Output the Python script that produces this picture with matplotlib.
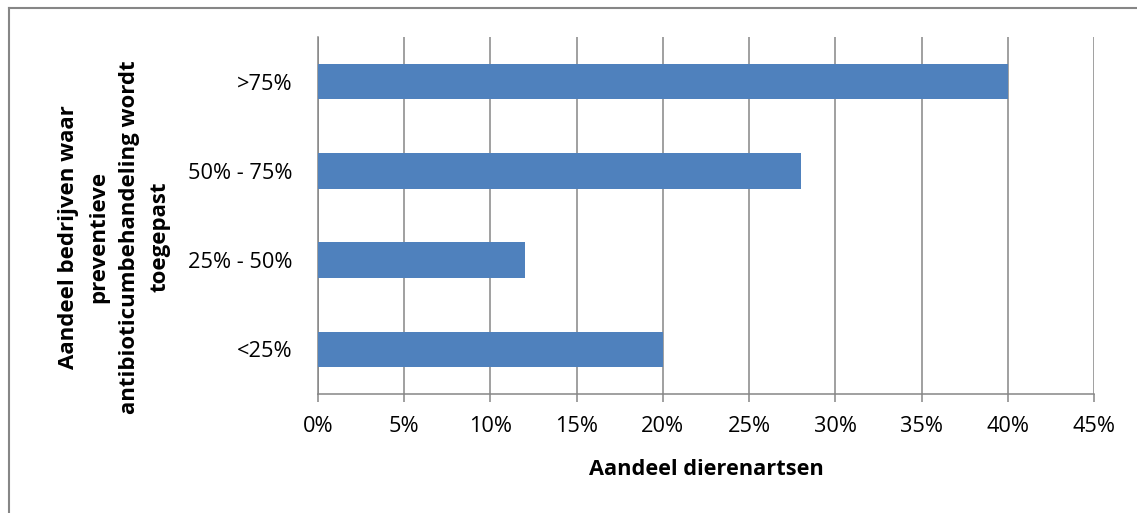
import matplotlib
matplotlib.use("Agg")
import matplotlib.pyplot as plt
from matplotlib.lines import Line2D
from matplotlib.ticker import FuncFormatter

categories = ["<25%", "25% - 50%", "50% - 75%", ">75%"]
values = [20, 12, 28, 40]
xticks = [0, 5, 10, 15, 20, 25, 30, 35, 40, 45]
xlabel = "Aandeel dierenartsen"
ylabel = "Aandeel bedrijven waar\npreventieve\nantibioticumbehandeling wordt\ntoegepast"

plt.rcParams['font.family'] = ['Open Sans', 'DejaVu Sans']

W, H = 1137, 513
fig = plt.figure(figsize=(W/100, H/100), dpi=100)
ax = fig.add_axes([318/W, 1-394/H, (1094-318)/W, (394-37)/H])

grid_c = "#868686"
ax.barh(range(len(categories)), values, height=0.4, color="#4F81BD", zorder=3)
ax.set_xlim(0, 45)
ax.set_ylim(-0.5, len(categories)-0.5)
ax.set_xticks(xticks)
ax.xaxis.set_major_formatter(FuncFormatter(lambda v, p: f"{int(v)}%"))
ax.set_yticks(range(len(categories)))
ax.set_yticklabels(categories)
ax.grid(axis='x', color=grid_c, linewidth=1.1, zorder=0)
for s in ['top', 'right']:
    ax.spines[s].set_visible(False)
for s in ['left', 'bottom']:
    ax.spines[s].set_color(grid_c)
    ax.spines[s].set_linewidth(1.1)
ax.tick_params(axis='x', length=6, color=grid_c, width=1.1, labelsize=15.7, pad=10)
ax.tick_params(axis='y', length=0, labelsize=15.7, pad=18)

ax.set_xlabel(xlabel, fontsize=15.7, fontweight='bold', labelpad=16)
fig.text(114/W, 1-237/H, ylabel, rotation=90, ha='center', va='center',
         fontsize=16, fontweight='bold', multialignment='center', linespacing=1.6)

fig.lines.append(Line2D([9/W, 1], [1-7.5/H, 1-7.5/H], transform=fig.transFigure,
                        color=grid_c, linewidth=1.5))
fig.lines.append(Line2D([9/W, 9/W], [0, 1-7.5/H], transform=fig.transFigure,
                        color=grid_c, linewidth=1.5))

fig.savefig("out.png", dpi=100)
